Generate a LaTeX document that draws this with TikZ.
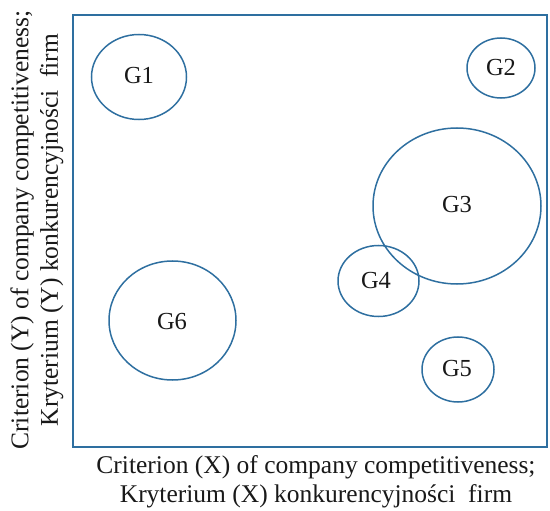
\documentclass[tikz,border=0pt]{standalone}
\usepackage{fontspec}
\setmainfont{Liberation Serif}
\definecolor{groupblue}{HTML}{2E6FA0}
\begin{document}
\begin{tikzpicture}[x=1pt,y=-1pt,
  frame/.style={draw=groupblue,line width=1.6pt},
  group/.style={draw=groupblue,line width=1.5pt},
  glabel/.style={font=\fontsize{24.5}{28}\selectfont,text=black!90},
  axlabel/.style={font=\fontsize{25.5}{29.5}\selectfont,align=center,text=black!90}]
  \useasboundingbox (0,0) rectangle (550,511);
  % plot frame
  \draw[frame] (73,15) rectangle (547,447);
  % groups
  \draw[group] (139,77) ellipse [x radius=47.5, y radius=42.5];
  \node[glabel] (g1) at (139,76) {G1};
  \draw[group] (501,68) ellipse [x radius=34, y radius=30];
  \node[glabel] (g2) at (501,68) {G2};
  \draw[group] (457,206) ellipse [x radius=84, y radius=78];
  \node[glabel] (g3) at (457,205) {G3};
  \draw[group] (378.5,281) ellipse [x radius=40.5, y radius=35.5];
  \node[glabel] (g4) at (376,281) {G4};
  \draw[group] (458,369.5) ellipse [x radius=36, y radius=32.5];
  \node[glabel] (g5) at (457,369) {G5};
  \draw[group] (172.5,320.5) ellipse [x radius=63.5, y radius=59.5];
  \node[glabel] (g6) at (172,322) {G6};
  % axis titles
  \node[axlabel] (xlab) at (316,482) {Criterion (X) of company competitiveness;\\Kryterium (X) konkurencyjności\ \ firm};
  \node[axlabel,rotate=90] (ylab) at (37,230) {Criterion (Y) of company competitiveness;\\Kryterium (Y) konkurencyjności\ \ firm};
\end{tikzpicture}
\end{document}
